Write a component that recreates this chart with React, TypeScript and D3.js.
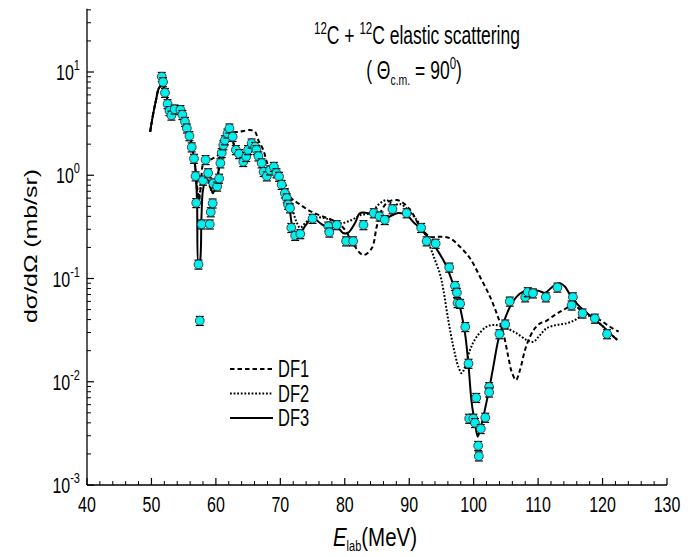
import React from "react";
import * as d3 from "d3";

// Experimental data: E_lab (MeV), dσ/dΩ (mb/sr)
const expE = [51.6, 51.8, 52.1, 52.5, 52.8, 53.1, 53.6, 54.5, 54.8, 55.2, 55.5, 55.9, 56.25, 56.6, 56.85, 56.95, 57.3, 57.5, 57.8, 58.0, 58.4, 58.8, 59.05, 59.2, 59.5, 59.6, 60.2, 60.5, 60.7, 60.9, 61.15, 61.4, 61.8, 62.1, 62.6, 63.1, 63.6, 64.25, 64.7, 65.0, 65.55, 66.1, 66.3, 66.6, 67.1, 67.4, 67.9, 68.4, 69.0, 69.4, 69.8, 70.2, 70.7, 71.0, 71.2, 71.5, 71.7, 72.3, 73.1, 75.0, 77.45, 77.6, 78.75, 80.2, 81.3, 82.9, 84.5, 85.4, 86.2, 87.4, 89.6, 91.85, 92.7, 94.1, 96.2, 97.1, 97.4, 97.5, 97.9, 98.7, 99.2, 100.4, 99.3, 99.95, 100.2, 101.1, 100.7, 100.8, 101.8, 102.4, 102.4, 104.0, 104.9, 105.6, 108.0, 108.4, 109.2, 111.2, 113.0, 115.4, 115.2, 116.9, 118.8, 120.7];
const expY = [9.0, 8.0, 6.3, 4.9, 4.2, 3.8, 4.35, 4.3, 3.85, 3.3, 2.85, 2.4, 1.87, 1.45, 0.98, 0.54, 0.137, 0.039, 0.335, 0.89, 1.41, 1.05, 0.335, 0.44, 0.535, 0.835, 0.78, 0.93, 1.31, 1.65, 1.96, 2.19, 2.55, 2.85, 2.36, 1.76, 1.61, 1.35, 1.51, 1.76, 2.04, 1.89, 1.76, 1.53, 1.31, 1.08, 0.98, 1.12, 1.21, 1.05, 0.97, 0.81, 0.67, 0.6, 0.52, 0.48, 0.31, 0.26, 0.27, 0.38, 0.32, 0.28, 0.33, 0.23, 0.23, 0.33, 0.43, 0.4, 0.37, 0.47, 0.43, 0.31, 0.23, 0.218, 0.128, 0.085, 0.073, 0.058, 0.057, 0.034, 0.015, 0.007, 0.0044, 0.0044, 0.004, 0.0035, 0.0024, 0.0019, 0.0045, 0.0089, 0.0079, 0.029, 0.036, 0.06, 0.066, 0.074, 0.072, 0.066, 0.082, 0.066, 0.055, 0.046, 0.041, 0.029];
const expErr = 0.1; // relative error

// Model curves
const df3E = [49.8, 50.24, 50.71, 51.17, 51.64, 52.1, 52.57, 53.03, 53.81, 54.59, 55.21, 55.83, 56.29, 56.76, 57.07, 57.3, 57.53, 57.77, 58.0, 58.47, 58.93, 59.24, 59.55, 60.02, 60.48, 60.95, 61.41, 61.88, 62.34, 62.81, 63.43, 64.21, 64.83, 65.45, 66.07, 66.69, 67.31, 67.93, 68.55, 69.17, 69.79, 70.41, 71.03, 71.5, 71.81, 72.28, 73.05, 73.98, 74.91, 76.16, 77.4, 78.79, 79.73, 80.5, 81.59, 82.36, 83.45, 84.69, 86.24, 87.02, 88.26, 89.65, 90.59, 91.94, 93.23, 94.51, 95.82, 96.59, 97.1, 97.88, 98.66, 99.17, 99.7, 100.21, 100.63, 100.98, 101.5, 102.27, 103.05, 103.82, 104.6, 105.64, 106.68, 107.7, 108.74, 110.03, 111.07, 112.36, 113.4, 114.18, 114.95, 115.72, 117.01, 118.57, 120.12, 121.42, 122.3];
const df3Y = [2.64, 3.84, 5.36, 7.0, 7.48, 6.7, 5.01, 4.1, 4.19, 4.19, 3.43, 2.56, 1.88, 1.26, 0.575, 0.135, 0.145, 0.41, 0.72, 0.9, 0.88, 0.75, 0.67, 0.8, 1.17, 1.68, 2.19, 2.68, 2.57, 1.96, 1.61, 1.41, 1.57, 1.92, 1.84, 1.5, 1.12, 0.98, 1.07, 1.12, 0.94, 0.75, 0.58, 0.44, 0.33, 0.27, 0.28, 0.33, 0.39, 0.345, 0.31, 0.315, 0.276, 0.276, 0.345, 0.43, 0.43, 0.41, 0.375, 0.4, 0.43, 0.41, 0.355, 0.295, 0.236, 0.182, 0.13, 0.0966, 0.083, 0.053, 0.0294, 0.0151, 0.0062, 0.00396, 0.00294, 0.00341, 0.00459, 0.00772, 0.014, 0.0254, 0.0368, 0.0533, 0.0667, 0.0745, 0.0762, 0.0762, 0.0728, 0.0845, 0.0897, 0.0833, 0.0692, 0.0596, 0.0495, 0.0412, 0.0341, 0.0284, 0.0254];

const df1E = [49.8, 50.24, 50.71, 51.17, 51.64, 52.1, 52.57, 53.03, 53.81, 54.59, 55.21, 55.83, 56.29, 56.76, 57.07, 57.38, 57.69, 58.16, 59.4, 60.64, 61.41, 62.19, 63.74, 65.29, 66.07, 66.58, 67.36, 68.09, 68.86, 69.64, 70.41, 71.19, 72.01, 72.79, 74.6, 76.67, 78.75, 80.04, 81.59, 82.88, 84.18, 84.96, 85.73, 86.76, 88.06, 89.08, 90.39, 91.67, 93.23, 94.78, 96.33, 97.88, 99.43, 100.98, 102.53, 103.57, 104.6, 105.37, 105.9, 106.57, 107.19, 107.97, 108.74, 109.52, 110.3, 111.07, 112.62, 113.91, 115.46, 116.5, 118.05, 119.61, 121.16, 122.5];
const df1Y = [2.64, 3.84, 5.36, 7.0, 7.48, 6.7, 5.01, 4.1, 4.19, 4.19, 3.43, 2.56, 1.88, 1.26, 0.8, 0.575, 0.8, 1.34, 1.44, 1.63, 2.1, 2.55, 2.64, 2.74, 2.64, 2.19, 1.76, 1.26, 1.12, 1.0, 0.8, 0.645, 0.575, 0.535, 0.45, 0.397, 0.352, 0.295, 0.203, 0.169, 0.196, 0.318, 0.46, 0.554, 0.575, 0.538, 0.44, 0.318, 0.254, 0.254, 0.245, 0.203, 0.157, 0.104, 0.0667, 0.046, 0.0294, 0.0175, 0.0125, 0.0104, 0.013, 0.0203, 0.0273, 0.033, 0.0368, 0.0382, 0.0444, 0.0495, 0.0553, 0.0503, 0.0444, 0.0396, 0.0341, 0.0305];

const df2E = [49.8, 50.24, 50.71, 51.17, 51.64, 52.1, 52.57, 53.03, 53.81, 54.59, 55.21, 55.83, 56.29, 56.76, 57.07, 57.3, 57.53, 57.85, 58.31, 58.78, 59.24, 59.55, 60.02, 60.48, 60.95, 61.41, 61.88, 62.34, 62.81, 63.43, 64.21, 64.83, 65.45, 66.07, 66.69, 67.31, 67.93, 68.55, 69.17, 69.79, 70.41, 71.03, 71.5, 72.01, 72.54, 73.05, 74.09, 75.38, 77.19, 79.26, 81.07, 82.36, 83.91, 85.46, 86.5, 87.53, 88.57, 89.86, 91.16, 92.19, 93.23, 94.0, 94.78, 95.3, 96.06, 96.84, 97.62, 98.14, 98.66, 99.43, 100.47, 102.02, 103.31, 105.13, 106.68, 108.23, 109.26, 110.3, 111.33, 112.88, 114.43, 115.72, 116.76, 118.05, 118.98, 120.12, 121.42, 122.3];
const df2Y = [2.64, 3.84, 5.36, 7.0, 7.48, 6.7, 5.01, 4.1, 4.19, 4.19, 3.43, 2.56, 1.88, 1.26, 0.72, 0.6, 0.69, 0.9, 0.94, 0.86, 0.72, 0.67, 0.79, 1.17, 1.68, 2.19, 2.68, 2.57, 1.96, 1.61, 1.41, 1.57, 1.92, 1.84, 1.5, 1.12, 0.98, 1.07, 1.12, 0.98, 0.88, 0.76, 0.6, 0.44, 0.35, 0.31, 0.355, 0.39, 0.38, 0.343, 0.369, 0.41, 0.43, 0.535, 0.575, 0.515, 0.527, 0.46, 0.369, 0.295, 0.203, 0.151, 0.11, 0.0775, 0.0396, 0.0219, 0.014, 0.0121, 0.014, 0.0203, 0.0273, 0.0341, 0.0355, 0.033, 0.0294, 0.0254, 0.0244, 0.0284, 0.033, 0.0355, 0.0368, 0.0396, 0.0434, 0.0434, 0.0396, 0.0341, 0.0284, 0.0254];

const xTicks = [40, 50, 60, 70, 80, 90, 100, 110, 120, 130];
const yExps = [-3, -2, -1, 0, 1];
const legendLabels = ["DF1", "DF2", "DF3"];

const W = 691;
const H = 557;
const FONT = "Arial, 'Liberation Sans', Helvetica, sans-serif";
const SY = 1.4; // vertical stretch of the lettering

export default function App() {
  const x = d3.scaleLinear().domain([40, 130]).range([87, 667]);
  const y = d3.scaleLog().domain([1e-3, 10]).range([485, 72]);
  const yTop = y(40);

  const line = d3
    .line<[number, number]>()
    .x((d) => x(d[0]))
    .y((d) => y(d[1]))
    .curve(d3.curveCatmullRom.alpha(0.5));

  const series = [
    { e: df1E, v: df1Y, dash: "4.5,3" },
    { e: df2E, v: df2Y, dash: "1.8,1.8" },
    { e: df3E, v: df3Y, dash: "none" },
  ];

  const minorX = d3.range(40, 131, 2).filter((v) => v % 10 !== 0);
  const minorY: number[] = [];
  for (let p = -3; p <= 1; p++) {
    for (let m = 2; m <= 9; m++) {
      const v = m * Math.pow(10, p);
      if (v <= 40.0001) minorY.push(v);
    }
  }

  const tr = (tx: number, ty: number, s = SY) => `translate(${tx},${ty}) scale(1,${s})`;

  return (
    <svg
      width={W}
      height={H}
      style={{ position: "absolute", left: 0, top: 0, background: "#fff" }}
      fontFamily={FONT}
    >
      <rect x={0} y={0} width={W} height={H} fill="#fff" />
      {/* axes */}
      <line x1={87} x2={87} y1={yTop - 1} y2={485} stroke="#000" strokeWidth={1.3} />
      <line x1={87} x2={667} y1={485} y2={485} stroke="#000" strokeWidth={1.3} />
      {xTicks.map((t) => (
        <g key={"xt" + t}>
          <line x1={x(t)} x2={x(t)} y1={485} y2={478} stroke="#000" strokeWidth={1.2} />
          <text transform={tr(x(t), 512)} fontSize={16} textAnchor="middle">
            {t}
          </text>
        </g>
      ))}
      {minorX.map((t) => (
        <line key={"xm" + t} x1={x(t)} x2={x(t)} y1={485} y2={481} stroke="#000" strokeWidth={1} />
      ))}
      {yExps.map((p) => {
        const v = Math.pow(10, p);
        return (
          <g key={"yt" + p}>
            <line x1={87} x2={94} y1={y(v)} y2={y(v)} stroke="#000" strokeWidth={1.2} />
            <text transform={tr(80, y(v) + 8)} fontSize={16} textAnchor="end">
              <tspan>10</tspan>
              <tspan dy={-7} fontSize={11}>
                {p}
              </tspan>
            </text>
          </g>
        );
      })}
      {minorY.map((v, i) => (
        <line key={"ym" + i} x1={87} x2={91} y1={y(v)} y2={y(v)} stroke="#000" strokeWidth={1} />
      ))}

      {/* model curves */}
      {series.map((s, i) => (
        <path
          key={"s" + i}
          d={line(s.e.map((e, j) => [e, s.v[j]] as [number, number])) || ""}
          fill="none"
          stroke="#000"
          strokeWidth={2}
          strokeDasharray={s.dash}
        />
      ))}

      {/* data points */}
      {expE.map((e, i) => {
        const cx = x(e);
        const v = expY[i];
        const y1 = y(v * (1 + expErr));
        const y2 = y(v * (1 - expErr));
        return (
          <g key={"p" + i}>
            <line x1={cx} x2={cx} y1={y1} y2={y2} stroke="#000" strokeWidth={1} />
            <line x1={cx - 4} x2={cx + 4} y1={y1} y2={y1} stroke="#000" strokeWidth={1.2} />
            <line x1={cx - 4} x2={cx + 4} y1={y2} y2={y2} stroke="#000" strokeWidth={1.2} />
            <circle cx={cx} cy={y(v)} r={4.4} fill="#00f0f0" stroke="#333" strokeWidth={0.9} />
          </g>
        );
      })}

      {/* legend */}
      {legendLabels.map((l, i) => (
        <g key={"lg" + i}>
          <line
            x1={230}
            x2={273}
            y1={369 + i * 24.5}
            y2={369 + i * 24.5}
            stroke="#000"
            strokeWidth={2}
            strokeDasharray={series[i].dash}
          />
          <text transform={tr(278, 369 + i * 24.5 + 8)} fontSize={16.5}>
            {l}
          </text>
        </g>
      ))}

      {/* title */}
      <text transform={tr(417, 44, 1.45)} fontSize={17.5} textAnchor="middle">
        <tspan fontSize={11.5} dy={-7}>12</tspan>
        <tspan dy={7}>C + </tspan>
        <tspan fontSize={11.5} dy={-7}>12</tspan>
        <tspan dy={7}>C elastic scattering</tspan>
      </text>
      <text transform={tr(414, 79, 1.45)} fontSize={17.5} textAnchor="middle">
        <tspan>( Θ</tspan>
        <tspan fontSize={10.5} dy={4}>c.m.</tspan>
        <tspan dy={-4}> = 90</tspan>
        <tspan fontSize={11.5} dy={-7}>0</tspan>
        <tspan dy={7}>)</tspan>
      </text>

      {/* axis titles */}
      <text transform={tr(375, 546, 1.3)} fontSize={20.5} textAnchor="middle">
        <tspan fontStyle="italic">E</tspan>
        <tspan fontSize={11} dy={3.5}>lab</tspan>
        <tspan dy={-3.5}>(MeV)</tspan>
      </text>
      <text transform="translate(37,246) rotate(-90) scale(1.38,1)" fontSize={18} textAnchor="middle">
        dσ/dΩ (mb/sr)
      </text>
    </svg>
  );
}
